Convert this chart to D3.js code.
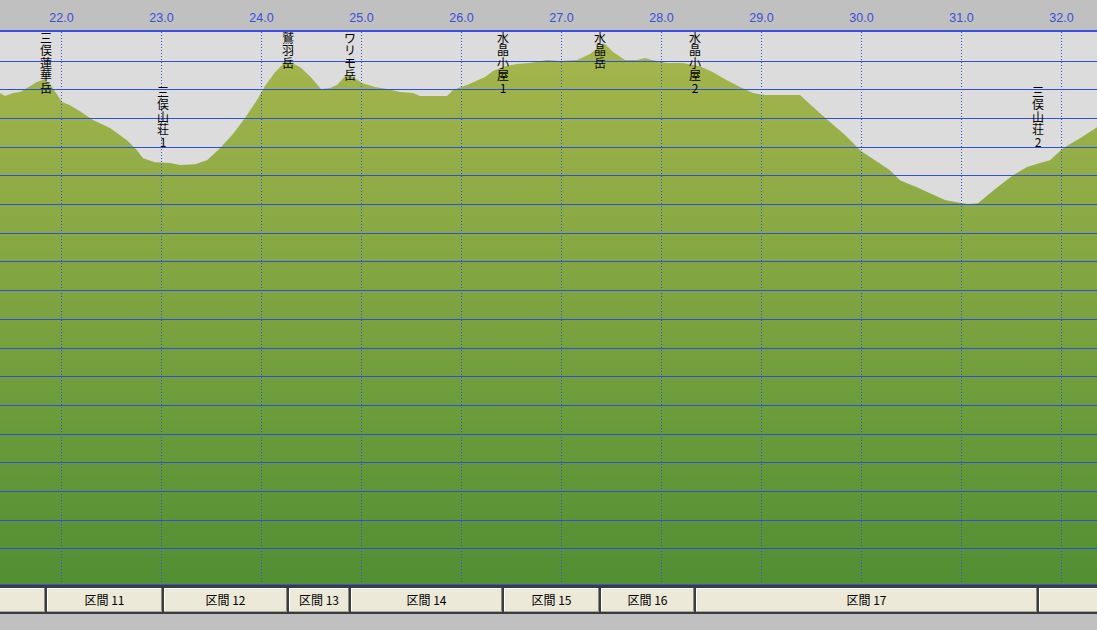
<!DOCTYPE html>
<meta charset="utf-8">
<style>
body { margin: 0; background: #c0c0c0; overflow: hidden; }
.axis text { font-family: "Liberation Sans", Arial, sans-serif; font-size: 12.5px; fill: #3a4fd6; }
.place text { font-family: "Noto Sans CJK JP", sans-serif; font-size: 12px; fill: #000; }
.band text { font-family: "Noto Sans CJK JP", sans-serif; font-size: 12px; fill: #000; }
</style>
<svg width="1097" height="630"></svg>
<script src="https://d3js.org/d3.v7.min.js"></script>
<script>

// profile: distance (km) and elevation (m)
var distance = [21.39, 21.44, 21.52, 21.59, 21.66, 21.76, 21.84, 21.91, 21.97, 22.01,
  22.09, 22.19, 22.32, 22.49, 22.66, 22.76, 22.82, 22.94, 23.09, 23.19,
  23.34, 23.46, 23.59, 23.72, 23.84, 23.96, 24.04, 24.14, 24.24, 24.27,
  24.39, 24.49, 24.60, 24.69, 24.76, 24.84, 24.89, 25.01, 25.14, 25.26,
  25.39, 25.52, 25.59, 25.86, 25.92, 26.06, 26.24, 26.32, 26.44, 26.56,
  26.69, 26.86, 26.99, 27.16, 27.29, 27.39, 27.44, 27.52, 27.64, 27.76,
  27.84, 27.91, 28.06, 28.22, 28.39, 28.52, 28.66, 28.79, 28.92, 29.04,
  29.39, 29.51, 29.59, 29.69, 29.84, 30.00, 30.14, 30.29, 30.39, 30.46,
  30.56, 30.69, 30.84, 30.94, 31.07, 31.17, 31.29, 31.39, 31.52, 31.66,
  31.79, 31.89, 32.02, 32.19, 32.36];
var elevation = [2787, 2777, 2787, 2791, 2805, 2826, 2836, 2808, 2777, 2756,
  2745, 2724, 2693, 2665, 2623, 2588, 2560, 2546, 2543, 2536,
  2539, 2553, 2595, 2644, 2700, 2763, 2812, 2860, 2895, 2899,
  2878, 2846, 2801, 2805, 2815, 2846, 2850, 2822, 2808, 2801,
  2791, 2787, 2777, 2777, 2798, 2815, 2843, 2864, 2881, 2888,
  2892, 2902, 2899, 2902, 2923, 2951, 2958, 2930, 2902, 2902,
  2909, 2902, 2892, 2892, 2881, 2860, 2832, 2808, 2787, 2780,
  2780, 2742, 2717, 2686, 2641, 2585, 2553, 2518, 2483, 2473,
  2459, 2438, 2414, 2407, 2400, 2403, 2438, 2466, 2501, 2529,
  2543, 2553, 2595, 2630, 2668];

// places along the route
var placeNames = ["三俣蓮華岳", "三俣山荘1", "鷲羽岳", "ワリモ岳", "水晶小屋1", "水晶岳", "水晶小屋2", "三俣山荘2"];
var placeKm = [21.85, 23.02, 24.27, 24.89, 26.42, 27.39, 28.34, 31.77];

// sections between places
var sectionNames = ["区間 10", "区間 11", "区間 12", "区間 13", "区間 14", "区間 15", "区間 16", "区間 17", "区間 18"];
var sectionStart = [20.0, 21.85, 23.02, 24.27, 24.89, 26.42, 27.39, 28.34, 31.77];
var sectionEnd = [21.85, 23.02, 24.27, 24.89, 26.42, 27.39, 28.34, 31.77, 33.8];

// axis ticks
var kmTicks = [22, 23, 24, 25, 26, 27, 28, 29, 30, 31, 32];
var elevTicks = [1200, 1300, 1400, 1500, 1600, 1700, 1800, 1900, 2000, 2100,
  2200, 2300, 2400, 2500, 2600, 2700, 2800, 2900];

// layout
var width = 1097, plotTop = 32, plotBottom = 585;
var labelDrop = { "三俣山荘1": 54, "三俣山荘2": 54 };

var svg = d3.select("svg");

var x = d3.scaleLinear().domain([22, 32]).range([61, 1061]);
var y = d3.scaleLinear().domain([1072, 3000]).range([plotBottom, plotTop]);

var profile = distance.map(function(d, i) { return { km: d, elev: elevation[i] }; });

// gradient for the ground
var defs = svg.append("defs");
var grad = defs.append("linearGradient")
    .attr("id", "ground")
    .attr("gradientUnits", "userSpaceOnUse")
    .attr("x1", 0).attr("y1", plotTop).attr("x2", 0).attr("y2", plotBottom);
grad.append("stop").attr("offset", "0%").attr("stop-color", "#a8b74d");
grad.append("stop").attr("offset", "100%").attr("stop-color", "#518f33");

defs.append("clipPath").attr("id", "plotclip")
  .append("rect").attr("x", 0).attr("y", plotTop).attr("width", width).attr("height", plotBottom - plotTop);

// top header
svg.append("rect").attr("x", 0).attr("y", 0).attr("width", width).attr("height", 30).attr("fill", "#c0c0c0");

// plot background
svg.append("rect").attr("x", 0).attr("y", plotTop).attr("width", width)
    .attr("height", plotBottom - plotTop).attr("fill", "#dcdcdc");

var plot = svg.append("g").attr("clip-path", "url(#plotclip)");

var area = d3.area()
    .x(function(d) { return x(d.km); })
    .y0(plotBottom)
    .y1(function(d) { return y(d.elev); });

plot.append("path")
    .datum(profile)
    .attr("fill", "url(#ground)")
    .attr("d", area);

// horizontal grid
plot.append("g").selectAll("line")
    .data(elevTicks)
    .enter().append("line")
    .attr("x1", 0).attr("x2", width)
    .attr("y1", function(d) { return Math.round(y(d)) + 0.5; })
    .attr("y2", function(d) { return Math.round(y(d)) + 0.5; })
    .attr("stroke", "#2f4fd6")
    .attr("stroke-width", 1);

// vertical dotted grid
plot.append("g").selectAll("line")
    .data(kmTicks)
    .enter().append("line")
    .attr("x1", function(d) { return Math.round(x(d)) + 0.5; })
    .attr("x2", function(d) { return Math.round(x(d)) + 0.5; })
    .attr("y1", plotTop).attr("y2", plotBottom)
    .attr("stroke", "#3050e0")
    .attr("stroke-dasharray", "1,2");

// place labels, one character per line
var place = plot.append("g").attr("class", "place").selectAll("text")
    .data(placeNames)
    .enter().append("text")
    .attr("text-anchor", "middle");

place.each(function(name, i) {
  var t = d3.select(this);
  var top = plotTop + (labelDrop[name] || 0);
  Array.from(name).forEach(function(ch, j) {
    t.append("tspan")
      .attr("x", x(placeKm[i]))
      .attr("y", top + 11 + j * 12.4)
      .text(ch);
  });
});

// top axis
var axis = svg.append("g")
    .attr("class", "axis")
    .attr("transform", "translate(0,22)")
    .call(d3.axisTop(x).tickValues(kmTicks).tickFormat(d3.format(".1f")).tickSize(0).tickPadding(0));
axis.select(".domain").remove();

// frame lines
svg.append("rect").attr("x", 0).attr("y", 30).attr("width", width).attr("height", 2).attr("fill", "#3a50e0");
svg.append("rect").attr("x", 0).attr("y", plotBottom - 1).attr("width", width).attr("height", 1).attr("fill", "#3a50e0");

// section band
var bandTop = 588, bandH = 24;
var band = svg.append("g").attr("class", "band");
band.append("rect").attr("x", 0).attr("y", plotBottom).attr("width", width).attr("height", 29).attr("fill", "#3c3c3c");

var sec = band.selectAll("g.sec")
    .data(sectionNames)
    .enter().append("g").attr("class", "sec");

sec.each(function(name, i) {
  var g = d3.select(this);
  var x0 = Math.round(x(sectionStart[i])) + 1, x1 = Math.round(x(sectionEnd[i])) - 1;
  g.append("rect").attr("x", x0).attr("y", bandTop).attr("width", x1 - x0).attr("height", bandH).attr("fill", "#ece9d8");
  g.append("rect").attr("x", x0).attr("y", bandTop).attr("width", x1 - x0).attr("height", 1).attr("fill", "#ffffff");
  g.append("rect").attr("x", x0).attr("y", bandTop).attr("width", 1).attr("height", bandH).attr("fill", "#ffffff");
  g.append("rect").attr("x", x1 - 1).attr("y", bandTop).attr("width", 1).attr("height", bandH).attr("fill", "#8c8a80");
  g.append("rect").attr("x", x0).attr("y", bandTop + bandH - 1).attr("width", x1 - x0).attr("height", 1).attr("fill", "#aca899");
  var cx = (x0 + x1) / 2;
  // the label sits at the middle of the section; skip it when that is off screen
  if (cx > 0 && cx < width) {
    g.append("text")
      .attr("x", cx)
      .attr("y", bandTop + 17)
      .attr("text-anchor", "middle")
      .text(name);
  }
});

</script>
